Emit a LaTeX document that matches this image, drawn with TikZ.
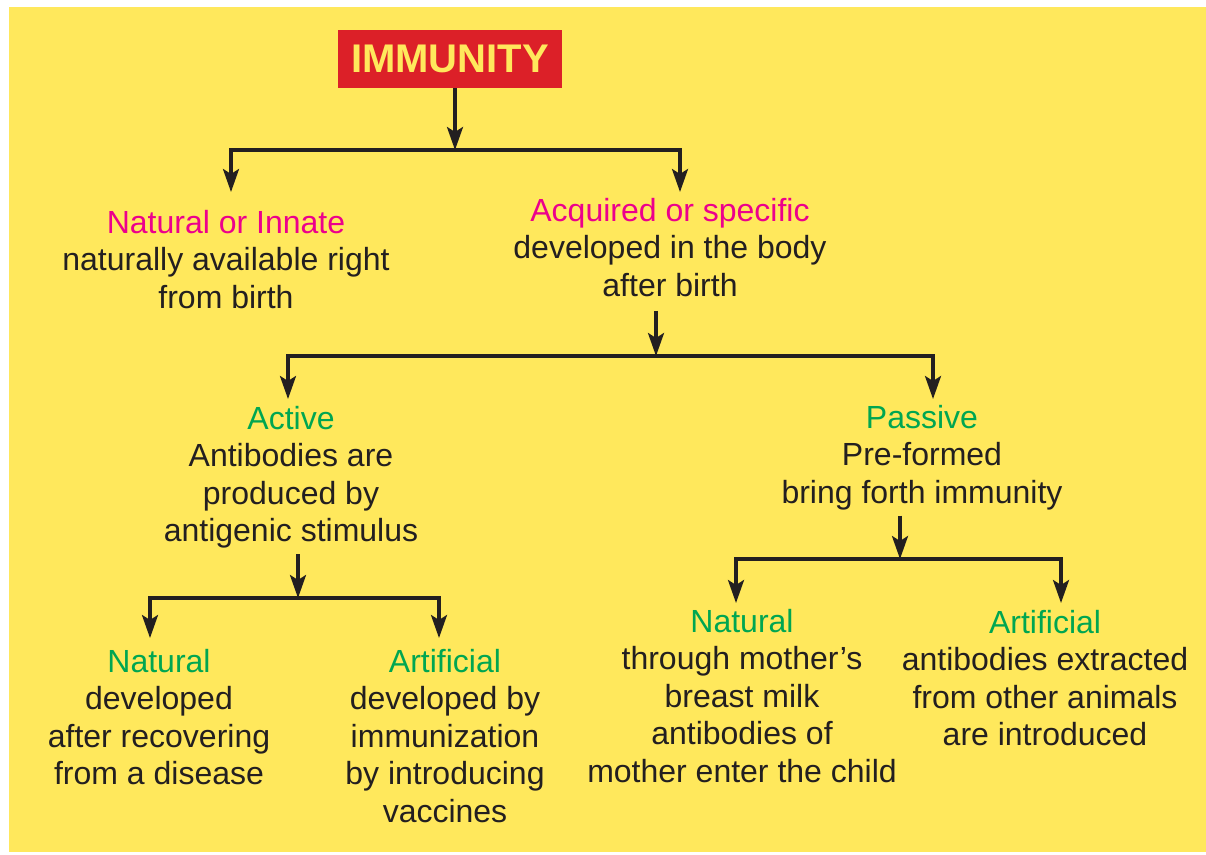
\documentclass[tikz,border=0pt]{standalone}
\usepackage{fontspec}
\setmainfont{Liberation Sans}
\usetikzlibrary{arrows.meta}
\definecolor{bg}{HTML}{FFE85C}
\definecolor{boxred}{HTML}{DC2028}
\definecolor{pinkt}{HTML}{EC008C}
\definecolor{greent}{HTML}{00A651}
\definecolor{ink}{HTML}{231F20}
\begin{document}
\begin{tikzpicture}[x=1pt,y=-1pt,
  arr/.style={draw=ink, line width=3.2pt, line join=miter,
    -{Stealth[length=23pt,width=16pt,inset=5pt]}},
  txt/.style={align=center, inner sep=0pt, anchor=north, text=ink,
    font=\fontsize{32}{37.5}\selectfont},
]
\useasboundingbox (0,0) rectangle (1206,854);
\fill[white] (0,0) rectangle (1206,854);
\fill[bg] (9,7) rectangle (1206,852);

\node[fill=boxred, text=bg, inner sep=0pt, minimum width=224pt, minimum height=58pt,
  font=\bfseries\fontsize{40}{40}\selectfont] (imm) at (450,59) {IMMUNITY};

\node[txt] (innate) at (226,210) {\textcolor{pinkt}{Natural or Innate}\\naturally available right\\from birth};
\node[txt] (acq) at (670,198) {\textcolor{pinkt}{Acquired or specific}\\developed in the body\\after birth};
\node[txt] (act) at (291,406) {\textcolor{greent}{Active}\\Antibodies are\\produced by\\antigenic stimulus};
\node[txt] (pas) at (922,405) {\textcolor{greent}{Passive}\\Pre-formed\\bring forth immunity};
\node[txt] (natA) at (159,649) {\textcolor{greent}{Natural}\\developed\\after recovering\\from a disease};
\node[txt] (artA) at (445,649) {\textcolor{greent}{Artificial}\\developed by\\immunization\\by introducing\\vaccines};
\node[txt] (natP) at (742,609) {\textcolor{greent}{Natural}\\through mother’s\\breast milk\\antibodies of\\mother enter the child};
\node[txt] (artP) at (1045,610) {\textcolor{greent}{Artificial}\\antibodies extracted\\from other animals\\are introduced};

\coordinate (j0) at (455,150);
\coordinate (j1) at (656,356);
\coordinate (j2) at (298,598);
\coordinate (j3) at (900,559);

\draw[arr] (imm.south -| j0) -- (j0);
\draw[arr, shorten >=18pt] (j0) -| ([xshift=5pt]innate.north);
\draw[arr, shorten >=6pt] (j0) -| ([xshift=10pt]acq.north);

\draw[arr, shorten <=14pt] (acq.south -| j1) -- (j1);
\draw[arr, shorten >=7pt] (j1) -| ([xshift=-3pt]act.north);
\draw[arr, shorten >=6pt] (j1) -| ([xshift=11pt]pas.north);

\draw[arr, shorten <=5.5pt] (act.south -| j2) -- (j2);
\draw[arr, shorten >=11pt] (j2) -| ([xshift=-9pt]natA.north);
\draw[arr, shorten >=11pt] (j2) -| ([xshift=-6pt]artA.north);

\draw[arr, shorten <=5.5pt] (pas.south -| j3) -- (j3);
\draw[arr, shorten >=6pt] (j3) -| ([xshift=-6pt]natP.north);
\draw[arr, shorten >=7pt] (j3) -| ([xshift=16pt]artP.north);
\end{tikzpicture}
\end{document}
